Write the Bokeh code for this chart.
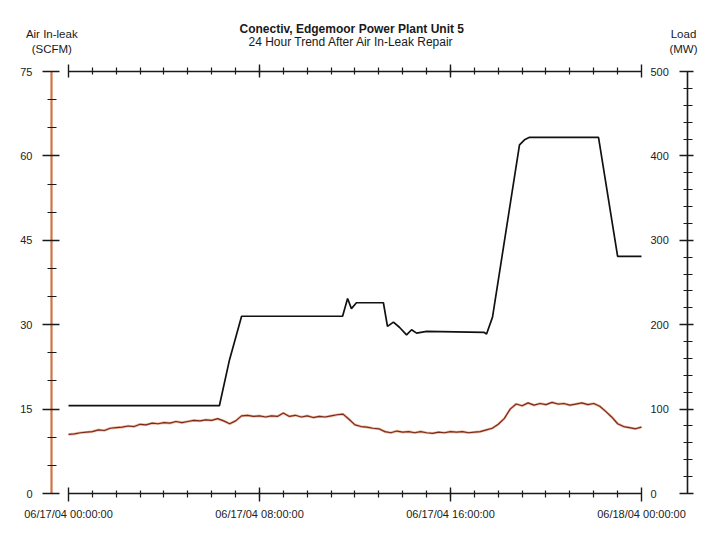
from bokeh.plotting import figure
from bokeh.models import Range1d, LinearAxis, FixedTicker, Title
from bokeh.embed import file_html
from bokeh.resources import INLINE

# ---------------- data ----------------
title_line1 = "Conectiv, Edgemoor Power Plant Unit 5"
title_line2 = "24 Hour Trend After Air In-Leak Repair"
left_axis_name = "Air In-leak\n(SCFM)"
right_axis_name = "Load\n(MW)"

time_ticks = [0, 8, 16, 24]
time_tick_labels = ["06/17/04 00:00:00", "06/17/04 08:00:00",
                    "06/17/04 16:00:00", "06/18/04 00:00:00"]
time_minor = [h for h in range(1, 24)]

scfm_ticks = [0, 15, 30, 45, 60, 75]
scfm_minor = [5, 10, 20, 25, 35, 40, 50, 55, 65, 70]
mw_ticks = [0, 100, 200, 300, 400, 500]
mw_minor = [20, 40, 60, 80, 120, 140, 160, 180, 220, 240, 260, 280,
            320, 340, 360, 380, 420, 440, 460, 480]

# Load (MW) trend, hours from 06/17/04 00:00
load_hours = [0, 6.32, 6.74, 7.25, 11.48, 11.69, 11.85, 12.06, 13.19, 13.36,
              13.61, 13.86, 14.16, 14.37, 14.58, 15.0, 17.40, 17.51, 17.76,
              18.89, 19.10, 19.31, 22.20, 23.00, 24.00]
load_mw = [104, 104, 158, 210, 210, 231, 219, 226, 226, 198,
           203, 197, 188, 194, 190, 192, 191, 189, 209,
           413, 419, 422, 422, 281, 281]

# Air in-leak (SCFM) trend, every 15 minutes
leak_hours = [i / 4 for i in range(97)]
leak_scfm = [10.5, 10.6, 10.8, 10.9, 11.0, 11.3, 11.2, 11.6, 11.7, 11.8,
             12.0, 11.9, 12.3, 12.2, 12.5, 12.4, 12.6, 12.5, 12.8, 12.6,
             12.8, 13.0, 12.9, 13.1, 13.0, 13.3, 12.9, 12.4, 12.9, 13.8,
             13.9, 13.7, 13.8, 13.6, 13.8, 13.7, 14.3, 13.7, 13.9, 13.6,
             13.8, 13.5, 13.7, 13.6, 13.8, 14.0, 14.1, 13.2, 12.2, 11.9,
             11.8, 11.6, 11.5, 11.0, 10.8, 11.1, 10.9, 11.0, 10.8, 11.0,
             10.8, 10.7, 10.9, 10.8, 11.0, 10.9, 11.0, 10.8, 10.9, 11.0,
             11.3, 11.6, 12.3, 13.3, 15.0, 15.9, 15.6, 16.1, 15.7, 16.0,
             15.8, 16.2, 15.9, 16.0, 15.7, 15.9, 16.1, 15.8, 16.0, 15.5,
             14.6, 13.6, 12.4, 11.9, 11.7, 11.5, 11.8]

# positions (hours) where the axis names sit above the chart
name_positions = [-0.70, 25.76]

FONT = "Liberation Sans"

p = figure(width=700, height=525, output_backend="svg", toolbar_location=None,
           x_range=Range1d(-0.712, 25.927), y_range=Range1d(0, 75),
           min_border_left=51, min_border_right=13, min_border_top=71,
           min_border_bottom=32)
p.outline_line_color = None
p.xgrid.visible = False
p.ygrid.visible = False
p.background_fill_color = "white"
p.border_fill_color = "white"
p.extra_y_ranges = {"load": Range1d(0, 500)}

def style_ticks(ax, maj_in, maj_out, min_in, min_out):
    ax.major_tick_in = maj_in
    ax.major_tick_out = maj_out
    ax.minor_tick_in = min_in
    ax.minor_tick_out = min_out
    ax.major_tick_line_color = "#1a1a1a"
    ax.minor_tick_line_color = "#1a1a1a"
    ax.major_tick_line_width = 1.4
    ax.minor_tick_line_width = 1.2
    ax.major_label_text_font = FONT
    ax.major_label_text_font_size = "11px"
    ax.major_label_text_color = "#222222"

# bottom time axis
xb = p.xaxis[0]
xb.ticker = FixedTicker(ticks=time_ticks, minor_ticks=time_minor)
xb.major_label_overrides = {t: s for t, s in zip(time_ticks, time_tick_labels)}
xb.bounds = (0, 24)
xb.axis_line_color = "#1a1a1a"
xb.axis_line_width = 1.4
style_ticks(xb, 6, 8, 3, 4)
xb.major_label_standoff = 6

# top time axis (no tick labels)
xt = LinearAxis(ticker=FixedTicker(ticks=time_ticks, minor_ticks=time_minor))
xt.bounds = (0, 24)
xt.axis_line_color = "#1a1a1a"
xt.axis_line_width = 1.4
style_ticks(xt, 6, 7, 3, 4)
xt.major_label_overrides = {t: "" for t in time_ticks}
xt.major_label_standoff = 0
p.add_layout(xt, "above")

# subtitle and main title
t2 = Title(text=title_line2, align="left", offset=197, text_font=FONT,
           text_font_size="12px", text_font_style="normal", text_color="#1a1a1a",
           standoff=31)
p.add_layout(t2, "above")
t1 = Title(text=title_line1, align="left", offset=188, text_font=FONT,
           text_font_size="12px", text_font_style="bold", text_color="#1a1a1a",
           standoff=-36)
p.add_layout(t1, "above")

# axis names row
xn = LinearAxis(ticker=FixedTicker(ticks=name_positions, minor_ticks=[]))
xn.bounds = (name_positions[0], name_positions[1])
xn.major_label_overrides = {name_positions[0]: left_axis_name,
                            name_positions[1]: right_axis_name}
xn.axis_line_color = None
xn.major_tick_line_color = None
xn.minor_tick_line_color = None
xn.major_tick_in = 0
xn.major_tick_out = 0
xn.minor_tick_in = 0
xn.minor_tick_out = 0
xn.major_label_standoff = -37
xn.major_label_text_font = FONT
xn.major_label_text_font_size = "11.5px"
xn.major_label_text_color = "#1a1a1a"
p.add_layout(xn, "above")

# left SCFM axis
yl = p.yaxis[0]
yl.ticker = FixedTicker(ticks=scfm_ticks, minor_ticks=scfm_minor)
yl.axis_line_color = "#cf7446"
yl.axis_line_width = 2.2
style_ticks(yl, 8, 9, 5, 4)
yl.major_label_standoff = 10

# right MW axis (labels on the inner side)
yr = LinearAxis(y_range_name="load",
                ticker=FixedTicker(ticks=mw_ticks, minor_ticks=mw_minor))
yr.axis_line_color = "#1a1a1a"
yr.axis_line_width = 1.6
style_ticks(yr, 8, 6, 4, 5)
yr.major_label_standoff = -43
p.add_layout(yr, "right")

# lines
p.line(leak_hours, leak_scfm, line_color="#e0804f", line_width=2.6, line_alpha=0.55)
p.line(leak_hours, leak_scfm, line_color="#7a2a1c", line_width=1.2)
p.line(load_hours, load_mw, line_color="#111111", line_width=1.7,
       y_range_name="load")

open("out.html", "w").write(file_html(p, INLINE))
